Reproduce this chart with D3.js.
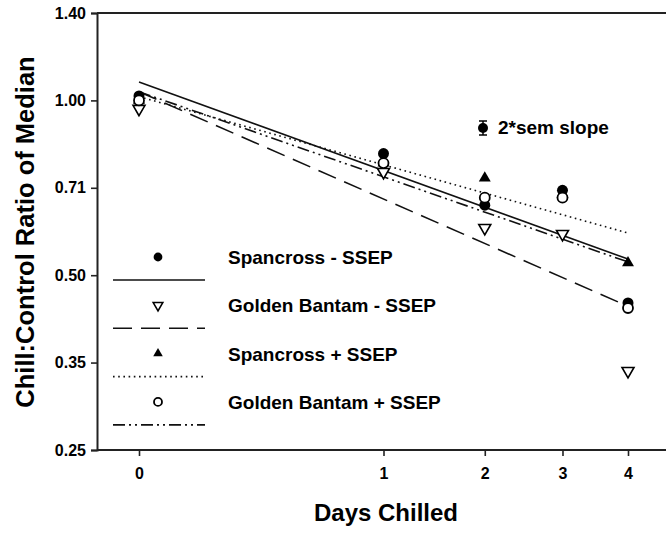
<!DOCTYPE html>
<html>
<head>
<meta charset="utf-8">
<script src="https://cdn.jsdelivr.net/npm/d3@7"></script>
<style>
  body { margin: 0; background: #fff; }
  svg { font-family: Arial, "Liberation Sans", sans-serif; font-weight: bold; }
</style>
</head>
<body>
<svg id="chart" width="666" height="535"></svg>
<script>
// values
const days = [0, 1, 2, 3, 4];
const spancrossMinus = [1.018, 0.81, 0.66, 0.70, 0.448];   // filled circle
const goldenMinus = [0.967, 0.753, 0.603, 0.589, 0.342];   // open triangle down
const spancrossPlus = [1.0, 0.78, 0.735, 0.69, 0.525];     // filled triangle
const goldenPlus = [1.0, 0.78, 0.68, 0.68, 0.439];         // open circle

// fitted lines, value at day 0 and day 4
const fitDays = [0, 4];
const fitSpancrossMinus = [1.076, 0.533];
const fitGoldenMinus = [1.035, 0.442];
const fitSpancrossPlus = [1.015, 0.591];
const fitGoldenPlus = [1.035, 0.527];

const yTicks = [0.25, 0.3536, 0.5, 0.7071, 1.0, 1.4142];
const yTickLabels = ["0.25", "0.35", "0.50", "0.71", "1.00", "1.40"];
const xTicks = [0, 1, 2, 3, 4];

const legendNames = ["Spancross - SSEP", "Golden Bantam - SSEP", "Spancross + SSEP", "Golden Bantam + SSEP"];

var svg = d3.select("svg");

var x = d3.scaleSqrt().domain([0, 4]).range([139, 628]);
var y = d3.scaleLog().domain([0.25, 1.4142]).range([450, 13]);

var axisLeft = 97;

// frame lines
svg.append("line")
    .attr("x1", axisLeft).attr("x2", 666)
    .attr("y1", 13).attr("y2", 13)
    .attr("stroke", "#222").attr("stroke-width", 2);

var gy = svg.append("g")
    .attr("transform", "translate(" + axisLeft + ",0)")
    .call(d3.axisLeft(y).tickValues(yTicks).tickSize(6).tickPadding(5)
        .tickFormat(function (d, i) { return yTickLabels[i]; }));

var gx = svg.append("g")
    .attr("transform", "translate(0,450)")
    .call(d3.axisBottom(x).tickValues(xTicks).tickSize(6).tickPadding(12)
        .tickFormat(d3.format("d")));

gx.select(".domain").attr("d", "M" + axisLeft + ",0H666");

[gx, gy].forEach(function (g) {
    g.selectAll(".domain").attr("stroke", "#222").attr("stroke-width", 2);
    g.selectAll(".tick line").attr("stroke", "#222").attr("stroke-width", 1.6);
    g.selectAll("text").attr("font-size", "16px").attr("font-weight", "bold")
        .attr("font-family", "Arial, 'Liberation Sans', sans-serif").attr("fill", "#000");
});

svg.append("text")
    .attr("transform", "translate(34," + 232 + ") rotate(-90)")
    .attr("text-anchor", "middle")
    .attr("font-size", "25.5px")
    .text("Chill:Control Ratio of Median");

svg.append("text")
    .attr("x", 386)
    .attr("y", 521)
    .attr("text-anchor", "middle")
    .attr("font-size", "24px")
    .text("Days Chilled");

// regression lines
var line = d3.line()
    .x(function (d) { return x(d[0]); })
    .y(function (d) { return y(d[1]); });

var fits = [
    { vals: fitSpancrossMinus, dash: null },
    { vals: fitGoldenMinus, dash: "19,9" },
    { vals: fitSpancrossPlus, dash: "1.6,3.6" },
    { vals: fitGoldenPlus, dash: "12,4,2,4,2,4" }
];

fits.forEach(function (f) {
    svg.append("path")
        .datum(fitDays.map(function (d, i) { return [d, f.vals[i]]; }))
        .attr("d", line)
        .attr("fill", "none")
        .attr("stroke", "#111")
        .attr("stroke-width", 1.6)
        .attr("stroke-dasharray", f.dash);
});

// markers
function drawMarker(g, kind, cx, cy, k) {
    var tri = d3.symbol().type(d3.symbolTriangle).size(62 * k * k);
    if (kind === "fcircle") {
        g.append("circle").attr("cx", cx).attr("cy", cy).attr("r", 5.5 * k).attr("fill", "#000");
    } else if (kind === "ocircle") {
        g.append("circle").attr("cx", cx).attr("cy", cy).attr("r", 5 * k).attr("fill", "#fff")
            .attr("stroke", "#000").attr("stroke-width", 1.8);
    } else if (kind === "ftri") {
        g.append("path").attr("d", tri()).attr("transform", "translate(" + cx + "," + cy + ")")
            .attr("fill", "#000");
    } else {
        g.append("path").attr("d", tri()).attr("transform", "translate(" + cx + "," + cy + ") rotate(180)")
            .attr("fill", "#fff").attr("stroke", "#000").attr("stroke-width", 1.6);
    }
}

var series = [
    { vals: spancrossMinus, kind: "fcircle" },
    { vals: goldenMinus, kind: "otri" },
    { vals: spancrossPlus, kind: "ftri" },
    { vals: goldenPlus, kind: "ocircle" }
];

var pts = svg.append("g");
series.forEach(function (s) {
    days.forEach(function (d, i) {
        drawMarker(pts, s.kind, x(d), y(s.vals[i]), 1);
    });
});

// 2*sem marker
var sem = svg.append("g");
sem.append("line").attr("x1", 483).attr("x2", 483).attr("y1", 121).attr("y2", 135)
    .attr("stroke", "#000").attr("stroke-width", 1.5);
sem.append("line").attr("x1", 479).attr("x2", 487).attr("y1", 121).attr("y2", 121)
    .attr("stroke", "#000").attr("stroke-width", 1.5);
sem.append("line").attr("x1", 479).attr("x2", 487).attr("y1", 135).attr("y2", 135)
    .attr("stroke", "#000").attr("stroke-width", 1.5);
sem.append("circle").attr("cx", 483).attr("cy", 128).attr("r", 5).attr("fill", "#000");
sem.append("text").attr("x", 498).attr("y", 134).attr("font-size", "19px").text("2*sem slope");

// legend
var leg = svg.append("g");
legendNames.forEach(function (name, i) {
    var yy = 257 + i * 48.3;
    drawMarker(leg, series[i].kind, 158, yy, 0.8);
    leg.append("text").attr("x", 228).attr("y", yy + 7).attr("font-size", "19px").text(name);
    leg.append("line")
        .attr("x1", 113).attr("x2", 205)
        .attr("y1", yy + 23).attr("y2", yy + 23)
        .attr("stroke", "#111").attr("stroke-width", 1.6)
        .attr("stroke-dasharray", fits[i].dash);
});
</script>
</body>
</html>
